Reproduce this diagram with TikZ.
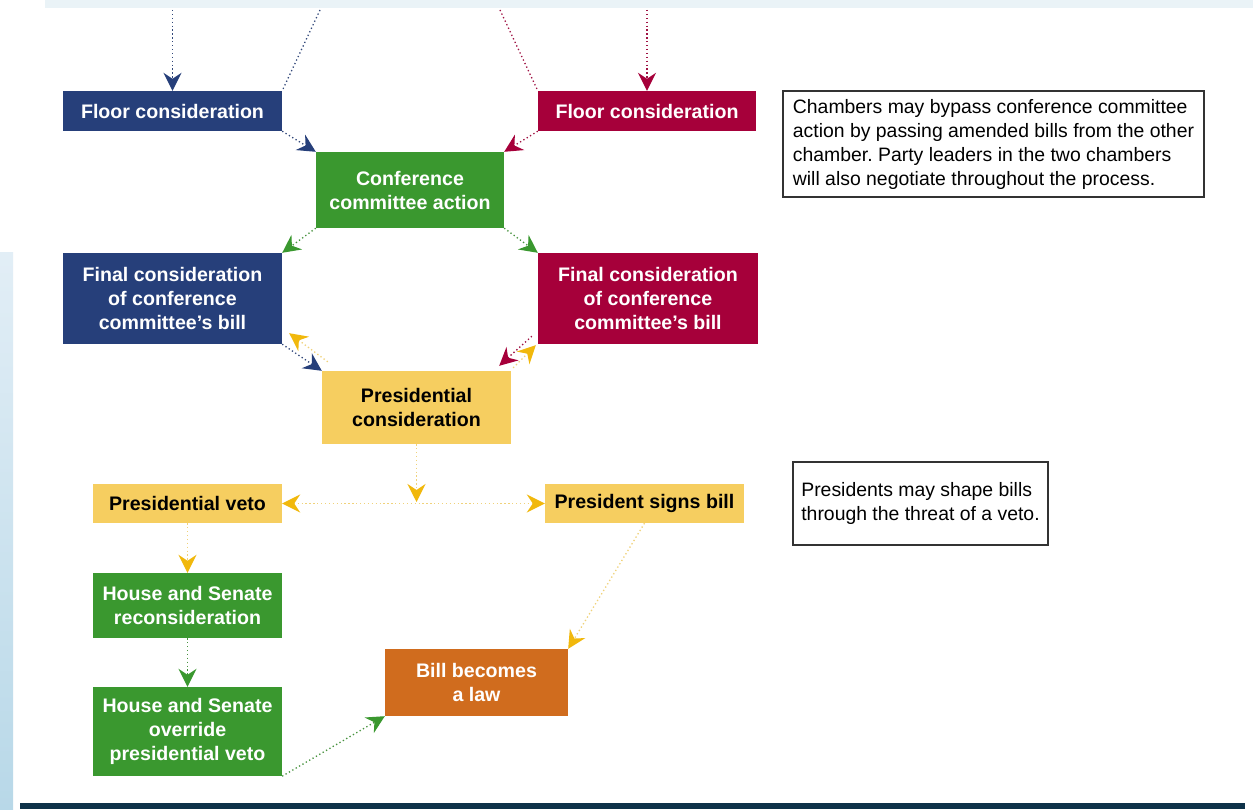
\documentclass[tikz,border=0pt]{standalone}
\usepackage{fontspec}
\setmainfont{Liberation Sans}
\usetikzlibrary{arrows.meta,calc}
\frenchspacing
\definecolor{navy}{HTML}{263F7A}
\definecolor{crim}{HTML}{A6003A}
\definecolor{grn}{HTML}{3A982F}
\definecolor{ylw}{HTML}{F6CE60}
\definecolor{ylwarr}{HTML}{F1B80C}
\definecolor{ylwdot}{HTML}{F0D27A}
\definecolor{orng}{HTML}{D06C1E}
\definecolor{topband}{HTML}{EAF3F7}
\definecolor{bandtop}{HTML}{E2EEF6}
\definecolor{bandbot}{HTML}{B8D8E8}
\definecolor{barcol}{HTML}{0E3249}
\tikzset{
  box/.style={rectangle, inner sep=0pt, align=center, font=\fontsize{19.6}{24}\selectfont\bfseries},
  bluebox/.style={box, fill=navy, text=white},
  redbox/.style={box, fill=crim, text=white},
  greenbox/.style={box, fill=grn, text=white},
  yellowbox/.style={box, fill=ylw, text=black},
  orangebox/.style={box, fill=orng, text=white},
  notebox/.style={draw=black!80, line width=1.1pt, inner sep=0pt, align=left, font=\fontsize{19.4}{24}\selectfont},
  flow/.style={line width=1.3pt, dash pattern=on 1.3pt off 2.6pt},
  navyline/.style={flow, draw=navy!85!gray},
  crimline/.style={flow, draw=crim!85!gray},
  navyarr/.style={navyline, -{Stealth[length=18pt,width=18pt,inset=6pt,color=navy]}},
  crimarr/.style={crimline, -{Stealth[length=18pt,width=18pt,inset=6pt,color=crim]}},
  grnarr/.style={flow, draw=grn!80!gray, -{Stealth[length=18pt,width=18pt,inset=6pt,color=grn]}},
  ylwline/.style={flow, draw=ylwdot},
  ylwarr/.style={ylwline, -{Stealth[length=18pt,width=18pt,inset=6pt,color=ylwarr]}},
  ylwboth/.style={ylwline, {Stealth[length=18pt,width=18pt,inset=6pt,color=ylwarr]}-{Stealth[length=18pt,width=18pt,inset=6pt,color=ylwarr]}}
}
\begin{document}
\begin{tikzpicture}[x=1pt,y=-1pt]
\path[use as bounding box, fill=white] (0,0) rectangle (1253,810);
% background decorations
\fill[topband] (45,0) rectangle (1253,8);
\shade[top color=bandtop, bottom color=bandbot] (0,253) rectangle (13,810);
\fill[barcol] (20,803) rectangle (1245,809);

% nodes
\node[bluebox, minimum width=219pt, minimum height=40pt] (floorH) at (172.5,111) {Floor consideration};
\node[redbox, minimum width=218pt, minimum height=40pt] (floorS) at (647,111) {Floor consideration};
\node[greenbox, minimum width=188pt, minimum height=76pt] (conf) at (410,190) {Conference\\committee action};
\node[bluebox, minimum width=219pt, minimum height=91pt] (finalH) at (172.5,298.5) {Final consideration\\of conference\\committee’s bill};
\node[redbox, minimum width=220pt, minimum height=91pt] (finalS) at (648,298.5) {Final consideration\\of conference\\committee’s bill};
\node[yellowbox, minimum width=189pt, minimum height=73pt] (pres) at (416.5,407.5) {Presidential\\consideration};
\node[yellowbox, minimum width=189pt, minimum height=39pt] (veto) at (187.5,503.5) {Presidential veto};
\node[yellowbox, minimum width=199pt, minimum height=39pt] (signs) at (644.5,503.5) {President signs bill};
\node[greenbox, minimum width=189pt, minimum height=65pt] (recon) at (187.5,605.5) {House and Senate\\reconsideration};
\node[greenbox, minimum width=189pt, minimum height=89pt] (override) at (187.5,731.5) {House and Senate\\override\\presidential veto};
\node[orangebox, minimum width=183pt, minimum height=67pt] (law) at (476.5,682.5) {Bill becomes\\a law};

\node[notebox, minimum width=421pt, minimum height=106pt] (note1) at (993.5,144) {Chambers may bypass conference committee\\action by passing amended bills from the other\\chamber. Party leaders in the two chambers\\will also negotiate throughout the process.};
\node[notebox, minimum width=255pt, minimum height=83pt] (note2) at (920.5,503.5) {Presidents may shape bills\\through the threat of a veto.};

% free ends
\coordinate (tH1) at (172.5,10);
\coordinate (tH2) at (320,10);
\coordinate (tS1) at (500,10);
\coordinate (tS2) at (647,10);
\coordinate (J) at (416.5,502);

% connectors
\draw[navyarr] (tH1) -- (floorH.north);
\draw[navyline] (tH2) -- (floorH.north east);
\draw[crimline] (tS1) -- (floorS.north west);
\draw[crimarr] (tS2) -- (floorS.north);

\draw[navyarr] (floorH.south east) -- (conf.north west);
\draw[crimarr] (floorS.south west) -- (conf.north east);
\draw[grnarr] (conf.south west) -- (finalH.north east);
\draw[grnarr] (conf.south east) -- (finalS.north west);

\draw[navyarr] (finalH.south east) -- (pres.north west);
\draw[ylwarr] ($(pres.north west)+(6,-9)$) -- ($(finalH.south east)+(7,-11)$);
\draw[crimarr] ($(finalS.south west)+(-6,-8)$) -- ($(pres.north east)+(-12,-5)$);
\draw[ylwarr] ($(pres.north east)+(2,-3)$) -- ($(finalS.south west)+(-2,1)$);

\draw[ylwarr] (pres.south) -- (J);
\draw[ylwboth] (veto.east) -- (signs.west);
\draw[ylwarr] (veto.south) -- (recon.north);
\draw[grnarr] (recon.south) -- (override.north);
\draw[grnarr] (override.south east) -- (law.south west);
\draw[ylwarr] (signs.south) -- (law.north east);
\end{tikzpicture}
\end{document}
